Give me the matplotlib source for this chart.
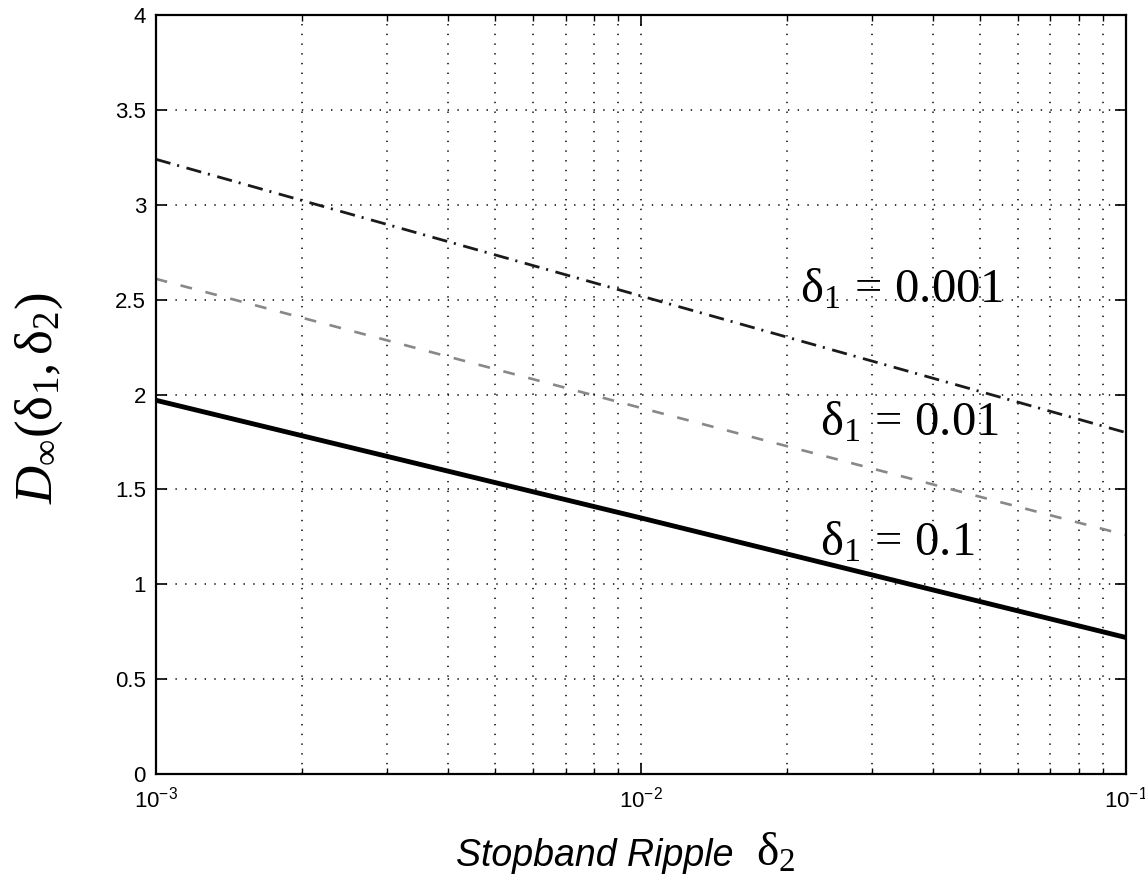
import matplotlib
matplotlib.use("Agg")
import matplotlib.pyplot as plt
from matplotlib.ticker import LogLocator, NullFormatter, FixedLocator

# Data
delta2 = [1e-3, 1e-2, 1e-1]
d_01 = [1.97, 1.35, 0.72]      # delta1 = 0.1
d_001 = [2.61, 1.93, 1.26]     # delta1 = 0.01
d_0001 = [3.24, 2.52, 1.80]    # delta1 = 0.001
yticks = [0, 0.5, 1, 1.5, 2, 2.5, 3, 3.5, 4]
ytick_labels = ["0", "0.5", "1", "1.5", "2", "2.5", "3", "3.5", "4"]
labels = [r"$\mathrm{δ}_1\,=\,0.001$", r"$\mathrm{δ}_1\,=\,0.01$", r"$\mathrm{δ}_1\,=\,0.1$"]

plt.rcParams['font.family'] = ['Liberation Sans', 'DejaVu Sans']
plt.rcParams['mathtext.fontset'] = 'custom'
plt.rcParams['mathtext.rm'] = 'Liberation Serif'
plt.rcParams['mathtext.it'] = 'Liberation Serif:italic'
plt.rcParams['mathtext.bf'] = 'Liberation Serif:bold'
plt.rcParams['lines.scale_dashes'] = False

fig = plt.figure(figsize=(11.45, 8.85), dpi=100)
ax = fig.add_axes([0.136, 0.1254, 0.847, 0.8576])

ax.plot(delta2, d_0001, color='#1a1a1a', lw=2.0, dashes=(11, 5, 1.5, 5.5))
ax.plot(delta2, d_001, color='#888888', lw=1.9, dashes=(8.5, 10))
ax.plot(delta2, d_01, color='black', lw=3.5, solid_capstyle='butt')

ax.set_xscale('log')
ax.set_xlim(1e-3, 1e-1)
ax.set_ylim(0, 4)
ax.yaxis.set_major_locator(FixedLocator(yticks))
ax.set_yticklabels(ytick_labels)
ax.xaxis.set_major_locator(LogLocator(base=10, numticks=10))
ax.xaxis.set_minor_locator(LogLocator(base=10, subs=range(2, 10), numticks=20))
ax.xaxis.set_minor_formatter(NullFormatter())

ax.grid(True, which='major', axis='both', color='black', linestyle=(0, (1, 6)), linewidth=1.1)
ax.grid(True, which='minor', axis='x', color='black', linestyle=(0, (1, 6)), linewidth=1.1)

ax.tick_params(which='both', direction='in', top=True, right=True, labelsize=16)
ax.tick_params(axis='x', which='both', pad=9)
ax.tick_params(axis='y', which='both', pad=7)
ax.tick_params(which='major', length=8, width=1.2)
ax.tick_params(which='minor', length=4.5, width=1.0)
for s in ax.spines.values():
    s.set_linewidth(1.6)

ax.text(0.0213, 2.55, labels[0], fontsize=35, va='center', ha='left')
ax.text(0.0234, 1.85, labels[1], fontsize=35, va='center', ha='left')
ax.text(0.0234, 1.22, labels[2], fontsize=35, va='center', ha='left')

fig.text(0.034, 0.55, r"$D_\infty(\mathrm{δ}_1,\mathrm{δ}_2)$", rotation=90, fontsize=38,
         ha='center', va='center')
fig.text(0.641, 0.0215, "Stopband Ripple", fontsize=27, style='italic',
         ha='right', va='baseline')
fig.text(0.660, 0.0215, r"$\mathrm{δ}_2$", fontsize=34, ha='left', va='baseline')

fig.savefig("out.png", dpi=100)
